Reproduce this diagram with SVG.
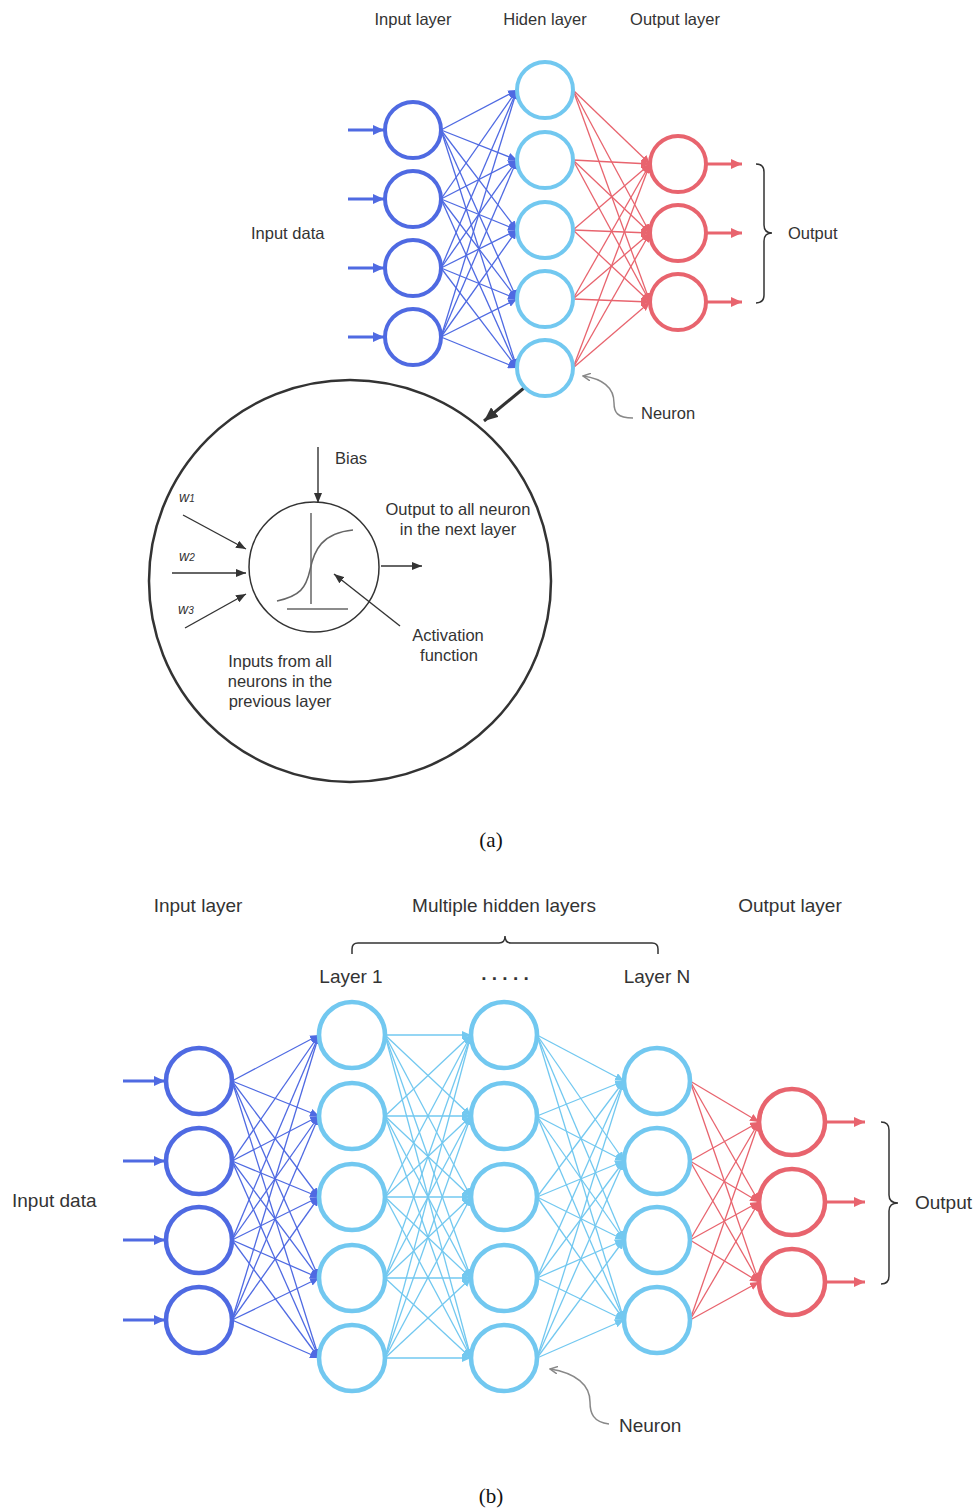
<svg xmlns="http://www.w3.org/2000/svg" width="978" height="1510" viewBox="0 0 978 1510">
  <defs>
    <style>
      .t { font-family: "Liberation Sans", Arial, sans-serif; fill: #333; }
      .s { font-size: 16.5px; }
      .b { font-size: 19px; }
      .cap { font-family: "Liberation Serif", "Times New Roman", serif; font-size: 21px; fill: #111; }
      .w { font-family: "Liberation Sans", Arial, sans-serif; font-style: italic; font-size: 14px; fill: #333; }
      .nIn { fill: none; stroke: #4f6ae2; stroke-width: 4; }
      .nHid { fill: none; stroke: #72c8f0; stroke-width: 4; }
      .nOut { fill: none; stroke: #e8646e; stroke-width: 4; }
      .lg { stroke-width: 4.6; }
      .eIn { stroke: #4f6ae2; stroke-width: 1.3; fill: none; marker-end: url(#hIn); }
      .eHid { stroke: #72c8f0; stroke-width: 1.3; fill: none; marker-end: url(#hHid); }
      .eOut { stroke: #e8646e; stroke-width: 1.3; fill: none; marker-end: url(#hOut); }
      .aIn { stroke: #4f6ae2; stroke-width: 3; marker-end: url(#bIn); }
      .aOut { stroke: #e8646e; stroke-width: 3; marker-end: url(#bOut); }
      .brace { fill: none; stroke: #333; stroke-width: 1.5; }
      .thin { stroke: #333; stroke-width: 1.4; fill: none; marker-end: url(#hBlk); }
      .pointer { fill: none; stroke: #888; stroke-width: 1.5; marker-end: url(#hGry); }
    </style>
    <marker id="hIn" markerUnits="userSpaceOnUse" markerWidth="9" markerHeight="8" refX="9" refY="4" orient="auto"><path d="M0,0 L9,4 L0,8 z" fill="#4f6ae2"/></marker>
    <marker id="hHid" markerUnits="userSpaceOnUse" markerWidth="9" markerHeight="8" refX="9" refY="4" orient="auto"><path d="M0,0 L9,4 L0,8 z" fill="#72c8f0"/></marker>
    <marker id="hOut" markerUnits="userSpaceOnUse" markerWidth="9" markerHeight="8" refX="9" refY="4" orient="auto"><path d="M0,0 L9,4 L0,8 z" fill="#e8646e"/></marker>
    <marker id="bIn" markerUnits="userSpaceOnUse" markerWidth="11" markerHeight="10" refX="11" refY="5" orient="auto"><path d="M0,0 L11,5 L0,10 z" fill="#4f6ae2"/></marker>
    <marker id="bOut" markerUnits="userSpaceOnUse" markerWidth="11" markerHeight="10" refX="11" refY="5" orient="auto"><path d="M0,0 L11,5 L0,10 z" fill="#e8646e"/></marker>
    <marker id="hBlk" markerUnits="userSpaceOnUse" markerWidth="10" markerHeight="8" refX="10" refY="4" orient="auto"><path d="M0,0 L10,4 L0,8 z" fill="#333"/></marker>
    <marker id="hGry" markerUnits="userSpaceOnUse" markerWidth="9" markerHeight="8" refX="8" refY="4" orient="auto"><path d="M0,0 L8,4 L0,8" fill="none" stroke="#888" stroke-width="1.5"/></marker>
    <marker id="hBig" markerUnits="userSpaceOnUse" markerWidth="14" markerHeight="12" refX="14" refY="6" orient="auto"><path d="M0,0 L14,6 L0,12 z" fill="#333"/></marker>
  </defs>
  <rect width="978" height="1510" fill="#fff"/>

  <!-- ===== (a) single hidden layer network ===== -->
  <g id="labels-a">
    <text class="t s" x="413" y="25" text-anchor="middle">Input layer</text>
    <text class="t s" x="545" y="25" text-anchor="middle">Hiden layer</text>
    <text class="t s" x="675" y="25" text-anchor="middle">Output layer</text>
    <text class="t s" x="251" y="239">Input data</text>
    <text class="t s" x="788" y="239">Output</text>
    <text class="t s" x="641" y="419">Neuron</text>
    <text class="cap" x="491" y="847" text-anchor="middle">(a)</text>
  </g>

  <g id="connectors-a">
    <!-- input arrows -->
    <line class="aIn" x1="348" y1="130" x2="384" y2="130"/>
    <line class="aIn" x1="348" y1="199" x2="384" y2="199"/>
    <line class="aIn" x1="348" y1="268" x2="384" y2="268"/>
    <line class="aIn" x1="348" y1="337" x2="384" y2="337"/>
    <!-- input -> hidden -->
    <line class="eIn" x1="441" y1="130" x2="517" y2="90"/>
    <line class="eIn" x1="441" y1="130" x2="517" y2="160"/>
    <line class="eIn" x1="441" y1="130" x2="517" y2="230"/>
    <line class="eIn" x1="441" y1="130" x2="517" y2="299"/>
    <line class="eIn" x1="441" y1="130" x2="517" y2="368"/>
    <line class="eIn" x1="441" y1="199" x2="517" y2="90"/>
    <line class="eIn" x1="441" y1="199" x2="517" y2="160"/>
    <line class="eIn" x1="441" y1="199" x2="517" y2="230"/>
    <line class="eIn" x1="441" y1="199" x2="517" y2="299"/>
    <line class="eIn" x1="441" y1="199" x2="517" y2="368"/>
    <line class="eIn" x1="441" y1="268" x2="517" y2="90"/>
    <line class="eIn" x1="441" y1="268" x2="517" y2="160"/>
    <line class="eIn" x1="441" y1="268" x2="517" y2="230"/>
    <line class="eIn" x1="441" y1="268" x2="517" y2="299"/>
    <line class="eIn" x1="441" y1="268" x2="517" y2="368"/>
    <line class="eIn" x1="441" y1="337" x2="517" y2="90"/>
    <line class="eIn" x1="441" y1="337" x2="517" y2="160"/>
    <line class="eIn" x1="441" y1="337" x2="517" y2="230"/>
    <line class="eIn" x1="441" y1="337" x2="517" y2="299"/>
    <line class="eIn" x1="441" y1="337" x2="517" y2="368"/>
    <!-- hidden -> output -->
    <line class="eOut" x1="573" y1="90" x2="650" y2="164"/>
    <line class="eOut" x1="573" y1="90" x2="650" y2="233"/>
    <line class="eOut" x1="573" y1="90" x2="650" y2="302"/>
    <line class="eOut" x1="573" y1="160" x2="650" y2="164"/>
    <line class="eOut" x1="573" y1="160" x2="650" y2="233"/>
    <line class="eOut" x1="573" y1="160" x2="650" y2="302"/>
    <line class="eOut" x1="573" y1="230" x2="650" y2="164"/>
    <line class="eOut" x1="573" y1="230" x2="650" y2="233"/>
    <line class="eOut" x1="573" y1="230" x2="650" y2="302"/>
    <line class="eOut" x1="573" y1="299" x2="650" y2="164"/>
    <line class="eOut" x1="573" y1="299" x2="650" y2="233"/>
    <line class="eOut" x1="573" y1="299" x2="650" y2="302"/>
    <line class="eOut" x1="573" y1="368" x2="650" y2="164"/>
    <line class="eOut" x1="573" y1="368" x2="650" y2="233"/>
    <line class="eOut" x1="573" y1="368" x2="650" y2="302"/>
    <!-- output arrows -->
    <line class="aOut" x1="707" y1="164" x2="742" y2="164"/>
    <line class="aOut" x1="707" y1="233" x2="742" y2="233"/>
    <line class="aOut" x1="707" y1="302" x2="742" y2="302"/>
    <!-- output brace -->
    <path class="brace" d="M756,164 Q764,164 764,172 L764,225 Q764,233 772,233 Q764,233 764,241 L764,295 Q764,303 756,303"/>
    <!-- neuron pointer -->
    <path class="pointer" d="M633,418 C617,418 614,412 614,403 C614,388 604,379 583,376"/>
    <!-- zoom arrow into the neuron detail -->
    <line x1="524" y1="388" x2="484" y2="421" stroke="#333" stroke-width="3" marker-end="url(#hBig)"/>
  </g>

  <g id="input-a">
    <circle class="nIn" cx="413" cy="130" r="28"/>
    <circle class="nIn" cx="413" cy="199" r="28"/>
    <circle class="nIn" cx="413" cy="268" r="28"/>
    <circle class="nIn" cx="413" cy="337" r="28"/>
  </g>
  <g id="hidden-a">
    <circle class="nHid" cx="545" cy="90" r="28"/>
    <circle class="nHid" cx="545" cy="160" r="28"/>
    <circle class="nHid" cx="545" cy="230" r="28"/>
    <circle class="nHid" cx="545" cy="299" r="28"/>
    <circle class="nHid" cx="545" cy="368" r="28"/>
  </g>
  <g id="output-a">
    <circle class="nOut" cx="678" cy="164" r="28"/>
    <circle class="nOut" cx="678" cy="233" r="28"/>
    <circle class="nOut" cx="678" cy="302" r="28"/>
  </g>

  <!-- neuron detail -->
  <g id="neuron-detail">
    <circle cx="350" cy="581" r="201" fill="none" stroke="#333" stroke-width="2.5"/>
    <circle cx="314" cy="567" r="65" fill="none" stroke="#333" stroke-width="1.5"/>
    <!-- activation curve -->
    <line x1="311" y1="513" x2="311" y2="604" stroke="#666" stroke-width="1.5"/>
    <line x1="287" y1="609" x2="348" y2="609" stroke="#666" stroke-width="1.5"/>
    <path d="M277,601 C300,596 306,588 310,570 C314,550 322,533 353,530" fill="none" stroke="#666" stroke-width="1.5"/>
    <!-- bias, weights, output, activation pointer -->
    <line class="thin" x1="318" y1="447" x2="318" y2="503"/>
    <line class="thin" x1="183" y1="515" x2="246" y2="549"/>
    <line class="thin" x1="172" y1="573" x2="246" y2="573"/>
    <line class="thin" x1="185" y1="628" x2="246" y2="594"/>
    <line class="thin" x1="381" y1="566" x2="422" y2="566"/>
    <line class="thin" x1="400" y1="626" x2="334" y2="574"/>
    <text class="t s" x="335" y="464">Bias</text>
    <text class="w" x="179" y="502">w<tspan font-size="10">1</tspan></text>
    <text class="w" x="179" y="561">w<tspan font-size="10">2</tspan></text>
    <text class="w" x="178" y="614">w<tspan font-size="10">3</tspan></text>
    <text class="t s" x="458" y="515" text-anchor="middle">Output to all neuron</text>
    <text class="t s" x="458" y="535" text-anchor="middle">in the next layer</text>
    <text class="t s" x="448" y="641" text-anchor="middle">Activation</text>
    <text class="t s" x="449" y="661" text-anchor="middle">function</text>
    <text class="t s" x="280" y="667" text-anchor="middle">Inputs from all</text>
    <text class="t s" x="280" y="687" text-anchor="middle">neurons in the</text>
    <text class="t s" x="280" y="707" text-anchor="middle">previous layer</text>
  </g>

  <!-- ===== (b) multiple hidden layers ===== -->
  <g id="labels-b">
    <text class="t b" x="198" y="912" text-anchor="middle">Input layer</text>
    <text class="t b" x="504" y="912" text-anchor="middle">Multiple hidden layers</text>
    <text class="t b" x="790" y="912" text-anchor="middle">Output layer</text>
    <text class="t b" x="351" y="983" text-anchor="middle">Layer 1</text>
    <text class="t b" x="505" y="980" text-anchor="middle" font-weight="bold">. . . . .</text>
    <text class="t b" x="657" y="983" text-anchor="middle">Layer N</text>
    <text class="t b" x="12" y="1207">Input data</text>
    <text class="t b" x="915" y="1209">Output</text>
    <text class="t b" x="619" y="1432">Neuron</text>
    <text class="cap" x="491" y="1503" text-anchor="middle">(b)</text>
  </g>

  <g id="connectors-b">
    <path class="brace" d="M352,954 L352,949 Q352,943 358,943 L499,943 Q505,943 505,936 Q505,943 511,943 L652,943 Q658,943 658,949 L658,954"/>
    <!-- input arrows -->
    <line class="aIn" x1="123" y1="1081" x2="165" y2="1081"/>
    <line class="aIn" x1="123" y1="1161" x2="165" y2="1161"/>
    <line class="aIn" x1="123" y1="1240" x2="165" y2="1240"/>
    <line class="aIn" x1="123" y1="1320" x2="165" y2="1320"/>
    <!-- input -> layer 1 -->
    <line class="eIn" x1="232" y1="1081" x2="319" y2="1035"/>
    <line class="eIn" x1="232" y1="1081" x2="319" y2="1116"/>
    <line class="eIn" x1="232" y1="1081" x2="319" y2="1197"/>
    <line class="eIn" x1="232" y1="1081" x2="319" y2="1278"/>
    <line class="eIn" x1="232" y1="1081" x2="319" y2="1358"/>
    <line class="eIn" x1="232" y1="1161" x2="319" y2="1035"/>
    <line class="eIn" x1="232" y1="1161" x2="319" y2="1116"/>
    <line class="eIn" x1="232" y1="1161" x2="319" y2="1197"/>
    <line class="eIn" x1="232" y1="1161" x2="319" y2="1278"/>
    <line class="eIn" x1="232" y1="1161" x2="319" y2="1358"/>
    <line class="eIn" x1="232" y1="1240" x2="319" y2="1035"/>
    <line class="eIn" x1="232" y1="1240" x2="319" y2="1116"/>
    <line class="eIn" x1="232" y1="1240" x2="319" y2="1197"/>
    <line class="eIn" x1="232" y1="1240" x2="319" y2="1278"/>
    <line class="eIn" x1="232" y1="1240" x2="319" y2="1358"/>
    <line class="eIn" x1="232" y1="1320" x2="319" y2="1035"/>
    <line class="eIn" x1="232" y1="1320" x2="319" y2="1116"/>
    <line class="eIn" x1="232" y1="1320" x2="319" y2="1197"/>
    <line class="eIn" x1="232" y1="1320" x2="319" y2="1278"/>
    <line class="eIn" x1="232" y1="1320" x2="319" y2="1358"/>
    <!-- layer 1 -> middle layer -->
    <line class="eHid" x1="385" y1="1035" x2="471" y2="1035"/>
    <line class="eHid" x1="385" y1="1035" x2="471" y2="1116"/>
    <line class="eHid" x1="385" y1="1035" x2="471" y2="1197"/>
    <line class="eHid" x1="385" y1="1035" x2="471" y2="1278"/>
    <line class="eHid" x1="385" y1="1035" x2="471" y2="1358"/>
    <line class="eHid" x1="385" y1="1116" x2="471" y2="1035"/>
    <line class="eHid" x1="385" y1="1116" x2="471" y2="1116"/>
    <line class="eHid" x1="385" y1="1116" x2="471" y2="1197"/>
    <line class="eHid" x1="385" y1="1116" x2="471" y2="1278"/>
    <line class="eHid" x1="385" y1="1116" x2="471" y2="1358"/>
    <line class="eHid" x1="385" y1="1197" x2="471" y2="1035"/>
    <line class="eHid" x1="385" y1="1197" x2="471" y2="1116"/>
    <line class="eHid" x1="385" y1="1197" x2="471" y2="1197"/>
    <line class="eHid" x1="385" y1="1197" x2="471" y2="1278"/>
    <line class="eHid" x1="385" y1="1197" x2="471" y2="1358"/>
    <line class="eHid" x1="385" y1="1278" x2="471" y2="1035"/>
    <line class="eHid" x1="385" y1="1278" x2="471" y2="1116"/>
    <line class="eHid" x1="385" y1="1278" x2="471" y2="1197"/>
    <line class="eHid" x1="385" y1="1278" x2="471" y2="1278"/>
    <line class="eHid" x1="385" y1="1278" x2="471" y2="1358"/>
    <line class="eHid" x1="385" y1="1358" x2="471" y2="1035"/>
    <line class="eHid" x1="385" y1="1358" x2="471" y2="1116"/>
    <line class="eHid" x1="385" y1="1358" x2="471" y2="1197"/>
    <line class="eHid" x1="385" y1="1358" x2="471" y2="1278"/>
    <line class="eHid" x1="385" y1="1358" x2="471" y2="1358"/>
    <!-- middle layer -> layer N -->
    <line class="eHid" x1="537" y1="1035" x2="624" y2="1081"/>
    <line class="eHid" x1="537" y1="1035" x2="624" y2="1161"/>
    <line class="eHid" x1="537" y1="1035" x2="624" y2="1240"/>
    <line class="eHid" x1="537" y1="1035" x2="624" y2="1320"/>
    <line class="eHid" x1="537" y1="1116" x2="624" y2="1081"/>
    <line class="eHid" x1="537" y1="1116" x2="624" y2="1161"/>
    <line class="eHid" x1="537" y1="1116" x2="624" y2="1240"/>
    <line class="eHid" x1="537" y1="1116" x2="624" y2="1320"/>
    <line class="eHid" x1="537" y1="1197" x2="624" y2="1081"/>
    <line class="eHid" x1="537" y1="1197" x2="624" y2="1161"/>
    <line class="eHid" x1="537" y1="1197" x2="624" y2="1240"/>
    <line class="eHid" x1="537" y1="1197" x2="624" y2="1320"/>
    <line class="eHid" x1="537" y1="1278" x2="624" y2="1081"/>
    <line class="eHid" x1="537" y1="1278" x2="624" y2="1161"/>
    <line class="eHid" x1="537" y1="1278" x2="624" y2="1240"/>
    <line class="eHid" x1="537" y1="1278" x2="624" y2="1320"/>
    <line class="eHid" x1="537" y1="1358" x2="624" y2="1081"/>
    <line class="eHid" x1="537" y1="1358" x2="624" y2="1161"/>
    <line class="eHid" x1="537" y1="1358" x2="624" y2="1240"/>
    <line class="eHid" x1="537" y1="1358" x2="624" y2="1320"/>
    <!-- layer N -> output -->
    <line class="eOut" x1="690" y1="1081" x2="759" y2="1122"/>
    <line class="eOut" x1="690" y1="1081" x2="759" y2="1202"/>
    <line class="eOut" x1="690" y1="1081" x2="759" y2="1282"/>
    <line class="eOut" x1="690" y1="1161" x2="759" y2="1122"/>
    <line class="eOut" x1="690" y1="1161" x2="759" y2="1202"/>
    <line class="eOut" x1="690" y1="1161" x2="759" y2="1282"/>
    <line class="eOut" x1="690" y1="1240" x2="759" y2="1122"/>
    <line class="eOut" x1="690" y1="1240" x2="759" y2="1202"/>
    <line class="eOut" x1="690" y1="1240" x2="759" y2="1282"/>
    <line class="eOut" x1="690" y1="1320" x2="759" y2="1122"/>
    <line class="eOut" x1="690" y1="1320" x2="759" y2="1202"/>
    <line class="eOut" x1="690" y1="1320" x2="759" y2="1282"/>
    <!-- output arrows -->
    <line class="aOut" x1="825" y1="1122" x2="865" y2="1122"/>
    <line class="aOut" x1="825" y1="1202" x2="865" y2="1202"/>
    <line class="aOut" x1="825" y1="1282" x2="865" y2="1282"/>
    <path class="brace" d="M881,1122 Q889,1122 889,1130 L889,1195 Q889,1203 898,1203 Q889,1203 889,1211 L889,1276 Q889,1284 881,1284"/>
    <!-- neuron pointer -->
    <path class="pointer" d="M609,1424 C593,1422 590,1413 590,1402 C590,1385 576,1373 550,1369"/>
  </g>

  <g id="input-b">
    <circle class="nIn lg" cx="199" cy="1081" r="33"/>
    <circle class="nIn lg" cx="199" cy="1161" r="33"/>
    <circle class="nIn lg" cx="199" cy="1240" r="33"/>
    <circle class="nIn lg" cx="199" cy="1320" r="33"/>
  </g>
  <g id="layer1-b">
    <circle class="nHid lg" cx="352" cy="1035" r="33"/>
    <circle class="nHid lg" cx="352" cy="1116" r="33"/>
    <circle class="nHid lg" cx="352" cy="1197" r="33"/>
    <circle class="nHid lg" cx="352" cy="1278" r="33"/>
    <circle class="nHid lg" cx="352" cy="1358" r="33"/>
  </g>
  <g id="layerM-b">
    <circle class="nHid lg" cx="504" cy="1035" r="33"/>
    <circle class="nHid lg" cx="504" cy="1116" r="33"/>
    <circle class="nHid lg" cx="504" cy="1197" r="33"/>
    <circle class="nHid lg" cx="504" cy="1278" r="33"/>
    <circle class="nHid lg" cx="504" cy="1358" r="33"/>
  </g>
  <g id="layerN-b">
    <circle class="nHid lg" cx="657" cy="1081" r="33"/>
    <circle class="nHid lg" cx="657" cy="1161" r="33"/>
    <circle class="nHid lg" cx="657" cy="1240" r="33"/>
    <circle class="nHid lg" cx="657" cy="1320" r="33"/>
  </g>
  <g id="output-b">
    <circle class="nOut lg" cx="792" cy="1122" r="33"/>
    <circle class="nOut lg" cx="792" cy="1202" r="33"/>
    <circle class="nOut lg" cx="792" cy="1282" r="33"/>
  </g>
</svg>
